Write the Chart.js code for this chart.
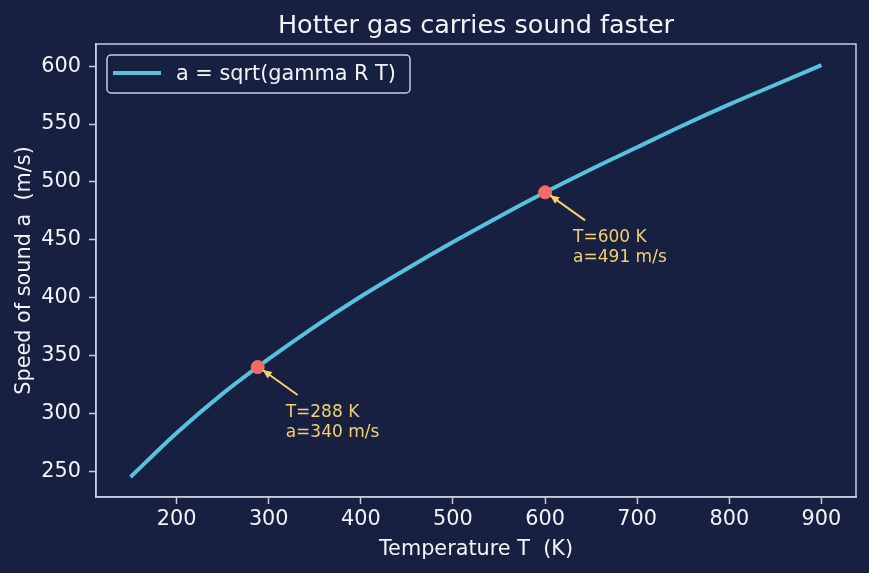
<!DOCTYPE html>
<html>
<head>
<meta charset="utf-8">
<script src="https://cdn.jsdelivr.net/npm/chart.js@4/dist/chart.umd.min.js"></script>
<style>
  html, body { margin: 0; padding: 0; background: #172040; }
  #wrap { width: 869px; height: 573px; }
</style>
</head>
<body>
<div id="wrap"><canvas id="c" width="869" height="573"></canvas></div>
<script>
// values
const temps = [150, 200, 250, 300, 350, 400, 450, 500, 550, 600, 650, 700, 750, 800, 850, 900];
const speeds = [245, 283, 317, 347, 375, 401, 425, 448, 470, 491, 511, 530, 549, 567, 584, 601];

const markT = [288, 600];
const markA = [340, 491];
const markLabels = [['T=288 K', 'a=340 m/s'], ['T=600 K', 'a=491 m/s']];

const xTicks = [200, 300, 400, 500, 600, 700, 800, 900];
const yTicks = [250, 300, 350, 400, 450, 500, 550, 600];

const BG = '#172040';
const FG = '#f2f4f8';
const SPINE = '#c6cde0';
const LINE = '#58c1dc';
const DOT = '#f26b6b';
const NOTE = '#f3cf6e';
const FONT = 'DejaVu Sans';

const frame = {
    id: 'frame',
    beforeDraw: (chart) => {
        const ctx = chart.ctx;
        ctx.save();
        ctx.fillStyle = BG;
        ctx.fillRect(0, 0, chart.width, chart.height);
        ctx.restore();
    },
    afterDatasetsDraw: (chart) => {
        const ctx = chart.ctx;
        const xs = chart.scales.x, ys = chart.scales.y;
        ctx.save();
        // annotations with arrows
        markT.forEach((t, i) => {
            const px = xs.getPixelForValue(t);
            const py = ys.getPixelForValue(markA[i]);
            const tx = px + 40, ty = py + 28;
            const hx = px + 5, hy = py + 3;
            ctx.strokeStyle = NOTE;
            ctx.fillStyle = NOTE;
            ctx.lineWidth = 2;
            ctx.beginPath();
            ctx.moveTo(tx, ty);
            ctx.lineTo(hx, hy);
            ctx.stroke();
            const ang = Math.atan2(hy - ty, hx - tx);
            const L = 9, W = 4;
            ctx.beginPath();
            ctx.moveTo(hx, hy);
            ctx.lineTo(hx - L * Math.cos(ang) + W * Math.sin(ang), hy - L * Math.sin(ang) - W * Math.cos(ang));
            ctx.lineTo(hx - L * Math.cos(ang) - W * Math.sin(ang), hy - L * Math.sin(ang) + W * Math.cos(ang));
            ctx.closePath();
            ctx.fill();
            ctx.font = '17px "' + FONT + '"';
            ctx.textAlign = 'left';
            ctx.textBaseline = 'alphabetic';
            ctx.fillText(markLabels[i][0], px + 28, py + 50);
            ctx.fillText(markLabels[i][1], px + 28, py + 70);
        });
        ctx.restore();
    },
    afterDraw: (chart) => {
        const ctx = chart.ctx;
        const a = chart.chartArea;
        ctx.save();
        // spines
        ctx.strokeStyle = SPINE;
        ctx.lineWidth = 1.5;
        ctx.strokeRect(a.left, a.top, a.right - a.left, a.bottom - a.top);
        // title
        ctx.fillStyle = FG;
        ctx.font = '25.5px "' + FONT + '"';
        ctx.textAlign = 'center';
        ctx.textBaseline = 'alphabetic';
        ctx.fillText('Hotter gas carries sound faster', (a.left + a.right) / 2, 33);
        // legend
        const lx = a.left + 11, ly = a.top + 11, lw = 303, lh = 38;
        ctx.beginPath();
        ctx.roundRect(lx, ly, lw, lh, 4);
        ctx.fillStyle = 'rgba(23,32,64,0.8)';
        ctx.fill();
        ctx.strokeStyle = SPINE;
        ctx.lineWidth = 1.5;
        ctx.stroke();
        ctx.strokeStyle = LINE;
        ctx.lineWidth = 4;
        ctx.beginPath();
        ctx.moveTo(lx + 6, ly + 18);
        ctx.lineTo(lx + 54, ly + 18);
        ctx.stroke();
        ctx.fillStyle = FG;
        ctx.font = '20.8px "' + FONT + '"';
        ctx.textAlign = 'left';
        ctx.fillText('a = sqrt(gamma R T)', lx + 69, ly + 25);
        ctx.restore();
    }
};

const ctx = document.getElementById('c').getContext('2d');
new Chart(ctx, {
    type: 'scatter',
    data: {
        datasets: [
            {
                label: 'markers',
                data: markT.map((t, i) => ({x: t, y: markA[i]})),
                backgroundColor: DOT,
                borderColor: DOT,
                pointRadius: 6.5,
                pointHoverRadius: 6.5,
                showLine: false,
                order: 0
            },
            {
                label: 'a = sqrt(gamma R T)',
                data: temps.map((t, i) => ({x: t, y: speeds[i]})),
                borderColor: LINE,
                borderWidth: 4,
                pointRadius: 0,
                showLine: true,
                cubicInterpolationMode: 'monotone',
                order: 1
            }
        ]
    },
    options: {
        responsive: false,
        animation: false,
        events: [],
        layout: {padding: {top: 44, right: 13, left: 0, bottom: 0}},
        plugins: {
            legend: {display: false},
            title: {display: false},
            tooltip: {enabled: false}
        },
        scales: {
            x: {
                type: 'linear',
                min: 112.5,
                max: 937.5,
                afterBuildTicks: (s) => { s.ticks = xTicks.map(v => ({value: v})); },
                afterFit: (s) => { s.height = 76; },
                grid: {drawOnChartArea: false, drawTicks: true, tickLength: 7, tickWidth: 1.5, color: SPINE},
                border: {display: true, color: SPINE, width: 1.5},
                ticks: {color: FG, padding: 3.5, maxRotation: 0, font: {family: FONT, size: 20.8, lineHeight: 1.2}},
                title: {display: true, text: 'Temperature T  (K)', color: FG, padding: {top: 0, bottom: 11}, font: {family: FONT, size: 20.8, lineHeight: 1.2}}
            },
            y: {
                type: 'linear',
                min: 227.7,
                max: 619.2,
                afterBuildTicks: (s) => { s.ticks = yTicks.map(v => ({value: v})); },
                afterFit: (s) => { s.width = 96; },
                grid: {drawOnChartArea: false, drawTicks: true, tickLength: 7, tickWidth: 1.5, color: SPINE},
                border: {display: true, color: SPINE, width: 1.5},
                ticks: {color: FG, padding: 8, font: {family: FONT, size: 20.8, lineHeight: 1.2}},
                title: {display: true, text: 'Speed of sound a  (m/s)', color: FG, padding: {top: 12, bottom: 0}, font: {family: FONT, size: 20.8, lineHeight: 1.2}}
            }
        }
    },
    plugins: [frame]
});
</script>
</body>
</html>
